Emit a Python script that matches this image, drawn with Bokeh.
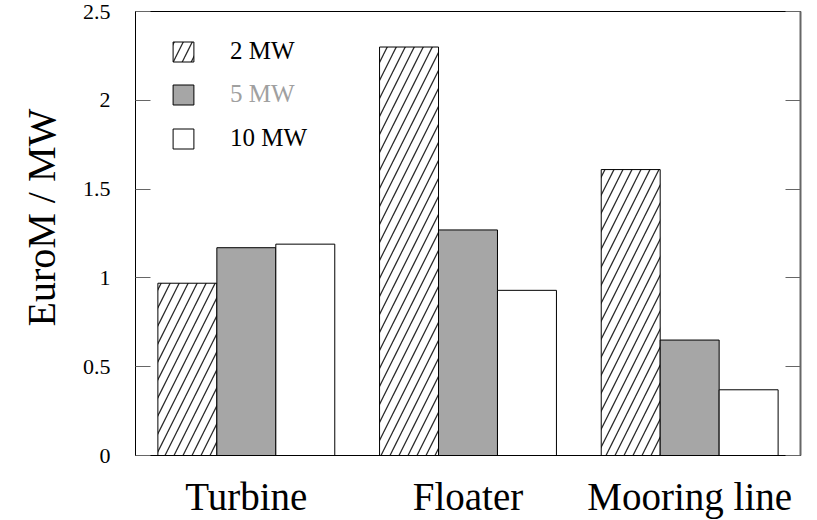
from bokeh.plotting import figure
from bokeh.models import (FactorRange, Range1d, LinearAxis, FixedTicker, Legend, LegendItem,
                          ColumnDataSource, Title)
from bokeh.transform import dodge
from bokeh.embed import file_html
from bokeh.resources import INLINE

categories = ["Turbine", "Floater", "Mooring line"]
mw2 = [0.97, 2.30, 1.61]
mw5 = [1.17, 1.27, 0.65]
mw10 = [1.19, 0.93, 0.37]
y_ticks = [0, 0.5, 1, 1.5, 2, 2.5]
series_labels = ["2 MW", "5 MW", "10 MW"]
y_title = "EuroM / MW"

src = ColumnDataSource(dict(cat=categories, mw2=mw2, mw5=mw5, mw10=mw10))

FONT = "Liberation Serif"
W = 0.266

p = figure(width=817, height=520, output_backend="svg", toolbar_location=None,
           x_range=FactorRange(factors=categories, range_padding=0),
           y_range=Range1d(0, 2.5),
           min_border_left=135, min_border_right=17, min_border_top=11, min_border_bottom=61)
p.xgrid.visible = False
p.ygrid.visible = False
p.outline_line_color = "black"
p.outline_line_width = 1
p.background_fill_color = "white"
p.border_fill_color = "white"

r2 = p.vbar(x=dodge("cat", -W, range=p.x_range), top="mw2", width=W, source=src,
            fill_color="white", line_color="black", line_width=1,
            hatch_pattern="right_diagonal_line", hatch_color="#2a2a2a",
            hatch_weight=1.3, hatch_scale=18)
r5 = p.vbar(x=dodge("cat", 0, range=p.x_range), top="mw5", width=W, source=src,
            fill_color="#a6a6a6", line_color="black", line_width=1)
r10 = p.vbar(x=dodge("cat", W, range=p.x_range), top="mw10", width=W, source=src,
             fill_color="white", line_color="black", line_width=1)

# y axis (left)
ya = p.yaxis[0]
ya.ticker = FixedTicker(ticks=y_ticks)
ya.minor_tick_line_color = None
ya.major_tick_in = 15
ya.major_tick_out = 0
ya.major_tick_line_color = "#666666"
ya.axis_line_color = "black"
ya.major_label_text_font = FONT
ya.major_label_text_font_size = "22px"
ya.major_label_text_color = "black"
ya.major_label_standoff = 25

# vertical axis title
t = Title(text=y_title, align="left", offset=129, text_font=FONT,
          text_font_size="40px", text_font_style="normal", text_color="black",
          standoff=32)
p.add_layout(t, "left")

# right axis (ticks only)
ra = LinearAxis(ticker=FixedTicker(ticks=y_ticks))
ra.minor_tick_line_color = None
ra.major_tick_in = 15
ra.major_tick_out = 0
ra.major_tick_line_color = "#666666"
ra.axis_line_color = "#666666"
ra.axis_line_width = 2
ra.major_label_overrides = {tk: "" for tk in y_ticks}
ra.major_label_standoff = 0
p.add_layout(ra, "right")

# x axis
xa = p.xaxis[0]
xa.major_tick_line_color = None
xa.minor_tick_line_color = None
xa.axis_line_color = "black"
xa.major_label_text_font = FONT
xa.major_label_text_font_size = "39px"
xa.major_label_text_color = "black"
xa.major_label_standoff = 13

# legends
renderers = [r2, r5, r10]
label_colors = ["black", "#a0a0a0", "black"]
legend_y = [390, 347, 303]
for rend, lab, col, ly in zip(renderers, series_labels, label_colors, legend_y):
    lg = Legend(items=[LegendItem(label=lab, renderers=[rend])],
                location=(35, ly), orientation="vertical",
                glyph_width=26, glyph_height=25, label_standoff=34,
                label_text_font=FONT, label_text_font_size="25px",
                label_text_color=col, label_height=25,
                padding=0, margin=0, spacing=0,
                border_line_color=None, background_fill_alpha=0)
    p.add_layout(lg, "center")

open("out.html", "w").write(file_html(p, INLINE))
